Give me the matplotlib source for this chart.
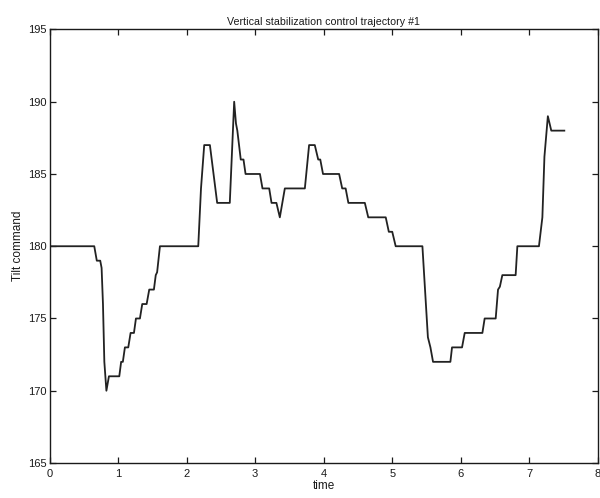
import matplotlib
matplotlib.use("Agg")
import matplotlib.pyplot as plt

plt.rcParams['font.family'] = ['Liberation Sans', 'DejaVu Sans']

# Tilt command trajectory (time in s, command value)
time = [0.0, 0.653, 0.69, 0.74, 0.76, 0.78, 0.80, 0.83, 0.867, 1.018, 1.045,
        1.07, 1.10, 1.149, 1.183, 1.232, 1.261, 1.319, 1.353, 1.417, 1.455,
        1.523, 1.55, 1.57, 1.611, 2.17, 2.21, 2.257, 2.34, 2.446, 2.63,
        2.694, 2.72, 2.74, 2.79, 2.83, 2.86, 3.07, 3.107, 3.205, 3.239,
        3.31, 3.36, 3.433, 3.725, 3.787, 3.87, 3.92, 3.95, 3.99, 4.225,
        4.27, 4.32, 4.36, 4.6, 4.65, 4.905, 4.95, 5.0, 5.05, 5.44, 5.52,
        5.557, 5.595, 5.848, 5.872, 6.018, 6.057, 6.315, 6.348, 6.509,
        6.543, 6.57, 6.606, 6.80, 6.825, 7.14, 7.19, 7.22, 7.27, 7.32, 7.51]
tilt = [180, 180, 179, 179, 178.5, 176, 172, 170, 171, 171, 172,
        172, 173, 173, 174, 174, 175, 175, 176, 176, 177,
        177, 178, 178.2, 180, 180, 184, 187, 187, 183, 183,
        190, 188.5, 188, 186, 186, 185, 185, 184, 184, 183,
        183, 182, 184, 184, 187, 187, 186, 186, 185, 185,
        184, 184, 183, 183, 182, 182, 181, 181, 180, 180, 173.7,
        173, 172, 172, 173, 173, 174, 174, 175, 175,
        177, 177.2, 178, 178, 180, 180, 182, 186.2, 189, 188, 188]

xticks = [0, 1, 2, 3, 4, 5, 6, 7, 8]
yticks = [165, 170, 175, 180, 185, 190, 195]

fig = plt.figure(figsize=(6.0, 4.98), dpi=100)
ax = fig.add_axes([0.0825, 0.0703, 0.914, 0.8705])

ax.plot(time, tilt, color='#222222', lw=1.3)

ax.set_xlim(0, 8)
ax.set_ylim(165, 195)
ax.set_xticks(xticks)
ax.set_yticks(yticks)
ax.tick_params(direction='in', top=True, right=True, length=4, width=0.9,
               labelsize=8, colors='#1a1a1a', pad=2)
ax.tick_params(axis='x', pad=4)
for s in ax.spines.values():
    s.set_linewidth(1.0)
    s.set_color('#1a1a1a')

ax.set_title('Vertical stabilization control trajectory #1', fontsize=7.7,
             color='#1a1a1a', pad=3)
ax.set_xlabel('time', fontsize=8.5, color='#1a1a1a', labelpad=1)
ax.set_ylabel('Tilt command', fontsize=8.5, color='#1a1a1a', labelpad=3)

fig.savefig('out.png', dpi=100)
